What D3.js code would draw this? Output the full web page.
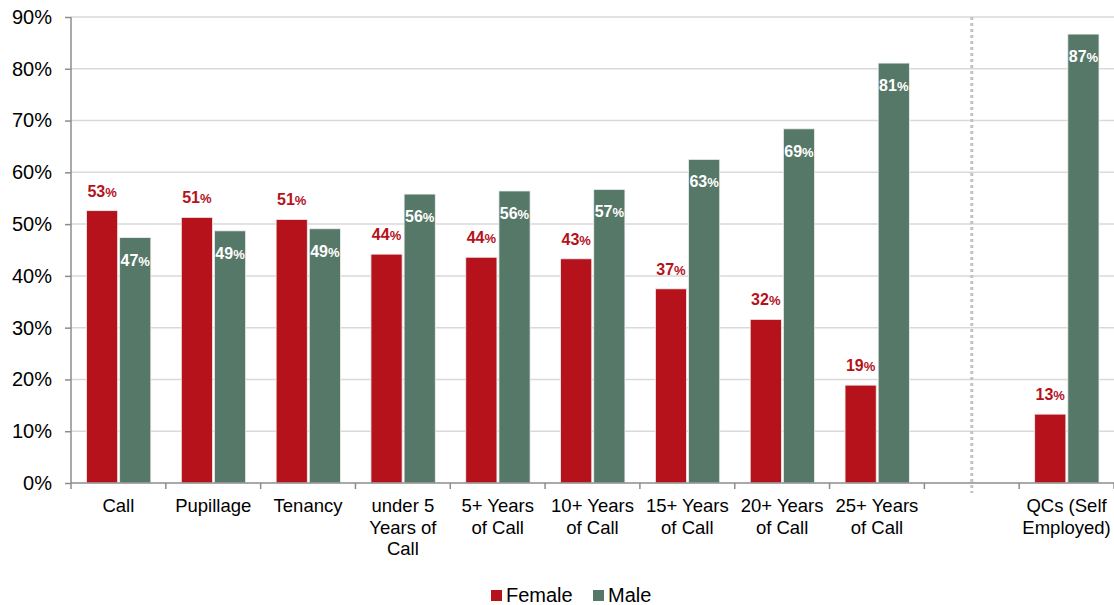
<!DOCTYPE html>
<html>
<head>
<meta charset="utf-8">
<script src="https://cdn.jsdelivr.net/npm/d3@7"></script>
<style>
    body { margin: 0; background: #fff; }
    svg { display: block; font-family: "Liberation Sans", Arial, sans-serif; }
</style>
</head>
<body>
<svg id="chart"></svg>
<script>
const width = 1114;
const height = 605;

// categories, blank slot is the gap before the QC group
const categories = ["Call", "Pupillage", "Tenancy", "under 5 Years of Call", "5+ Years of Call",
    "10+ Years of Call", "15+ Years of Call", "20+ Years of Call", "25+ Years of Call", "", "QCs (Self Employed)"];
const categoryLines = [["Call"], ["Pupillage"], ["Tenancy"], ["under 5", "Years of", "Call"], ["5+ Years", "of Call"],
    ["10+ Years", "of Call"], ["15+ Years", "of Call"], ["20+ Years", "of Call"], ["25+ Years", "of Call"], [], ["QCs (Self", "Employed)"]];
const female = [52.6, 51.3, 50.9, 44.2, 43.6, 43.3, 37.5, 31.6, 18.9, null, 13.3];
const male = [47.4, 48.7, 49.1, 55.8, 56.4, 56.7, 62.5, 68.4, 81.1, null, 86.7];
const femaleLabels = ["53", "51", "51", "44", "44", "43", "37", "32", "19", null, "13"];
const maleLabels = ["47", "49", "49", "56", "56", "57", "63", "69", "81", null, "87"];
const series = ["Female", "Male"];
const yTicks = [0, 10, 20, 30, 40, 50, 60, 70, 80, 90];

const colors = {"Female": "#b5121b", "Male": "#567868"};

const margin = {top: 17, left: 71, bottom: 483};

const svg = d3.select("#chart")
    .attr("width", width)
    .attr("height", height);

const x = d3.scaleBand()
    .domain(d3.range(categories.length))
    .range([margin.left, width])
    .padding(0);

const xSeries = d3.scaleBand()
    .domain(series)
    .range([15.5, x.bandwidth() - 15])
    .paddingInner(0.06);

const y = d3.scaleLinear()
    .domain([0, 90])
    .range([margin.bottom, margin.top]);

// gridlines
svg.append("g")
    .selectAll("line")
    .data(yTicks.filter(d => d > 0))
    .join("line")
    .attr("x1", margin.left)
    .attr("x2", width)
    .attr("y1", d => y(d))
    .attr("y2", d => y(d))
    .style("stroke", "#d9d9d9")
    .style("stroke-width", 1.5);

// dotted separator
svg.append("line")
    .attr("x1", x(9) + x.bandwidth() / 2)
    .attr("x2", x(9) + x.bandwidth() / 2)
    .attr("y1", y(90))
    .attr("y2", margin.bottom + 10)
    .style("stroke", "#c3c3c3")
    .style("stroke-width", 3)
    .style("stroke-dasharray", "3,3");

const rows = categories.map((c, i) => ({i, Female: female[i], Male: male[i], fl: femaleLabels[i], ml: maleLabels[i]}));

const groups = svg.append("g")
    .selectAll("g")
    .data(rows)
    .join("g")
    .attr("transform", d => `translate(${x(d.i)},0)`);

groups.selectAll("rect")
    .data(d => series.filter(s => d[s] != null).map(s => ({key: s, value: d[s]})))
    .join("rect")
    .attr("x", d => xSeries(d.key))
    .attr("width", xSeries.bandwidth())
    .attr("y", d => y(d.value))
    .attr("height", d => y(0) - y(d.value))
    .attr("fill", d => colors[d.key])
    .style("stroke", "#eeeeee")
    .style("stroke-width", 0.8);

// female labels sit above the bar
const fText = groups.filter(d => d.fl != null)
    .append("text")
    .attr("x", xSeries("Female") + xSeries.bandwidth() / 2)
    .attr("y", d => y(d.Female) - 14)
    .attr("text-anchor", "middle")
    .attr("fill", colors.Female)
    .style("font-weight", "bold")
    .style("font-size", "16px");
fText.append("tspan").text(d => d.fl);
fText.append("tspan").style("font-size", "13px").text("%");

// male labels sit inside the bar
const mText = groups.filter(d => d.ml != null)
    .append("text")
    .attr("x", xSeries("Male") + xSeries.bandwidth() / 2)
    .attr("y", d => y(d.Male) + 28)
    .attr("text-anchor", "middle")
    .attr("fill", "#ffffff")
    .style("font-weight", "bold")
    .style("font-size", "16px");
mText.append("tspan").text(d => d.ml);
mText.append("tspan").style("font-size", "13px").text("%");

// y axis
const yAxis = svg.append("g")
    .attr("transform", `translate(${margin.left},0)`)
    .call(d3.axisLeft(y).tickValues(yTicks).tickFormat(d => d + "%").tickSize(6).tickPadding(13));
yAxis.select(".domain").attr("d", `M0,${margin.top}V${margin.bottom}`);
yAxis.selectAll("path, line").style("stroke", "#8c8c8c").style("stroke-width", 1.5);
yAxis.selectAll("text")
    .style("font-size", "20px")
    .style("font-family", "Liberation Sans, Arial, sans-serif")
    .attr("fill", "#000");

// x axis with ticks on band edges
const xAxis = svg.append("g");
xAxis.append("line")
    .attr("x1", margin.left)
    .attr("x2", width)
    .attr("y1", margin.bottom)
    .attr("y2", margin.bottom)
    .style("stroke", "#8c8c8c")
    .style("stroke-width", 1.5);
xAxis.selectAll(".tick")
    .data(d3.range(categories.length + 1))
    .join("line")
    .attr("class", "tick")
    .attr("x1", d => margin.left + d * x.step())
    .attr("x2", d => margin.left + d * x.step())
    .attr("y1", margin.bottom)
    .attr("y2", margin.bottom + 6)
    .style("stroke", "#8c8c8c")
    .style("stroke-width", 1.5);

const xLabels = xAxis.selectAll(".xlabel")
    .data(categoryLines)
    .join("text")
    .attr("class", "xlabel")
    .attr("text-anchor", "middle")
    .style("font-size", "18.5px")
    .attr("fill", "#000");
xLabels.selectAll("tspan")
    .data((d, i) => d.map(line => ({line, i})))
    .join("tspan")
    .attr("x", d => x(d.i) + x.bandwidth() / 2)
    .attr("y", (d, j) => 512 + j * 21.5)
    .text(d => d.line);

// legend
const legend = svg.append("g");
const legendX = {"Female": 491, "Male": 593};
legend.selectAll("rect")
    .data(series)
    .join("rect")
    .attr("x", d => legendX[d])
    .attr("y", 590)
    .attr("width", 11)
    .attr("height", 11)
    .attr("fill", d => colors[d]);
legend.selectAll("text")
    .data(series)
    .join("text")
    .attr("x", d => legendX[d] + 15)
    .attr("y", 602)
    .style("font-size", "20px")
    .attr("fill", "#000")
    .text(d => d);
</script>
</body>
</html>
